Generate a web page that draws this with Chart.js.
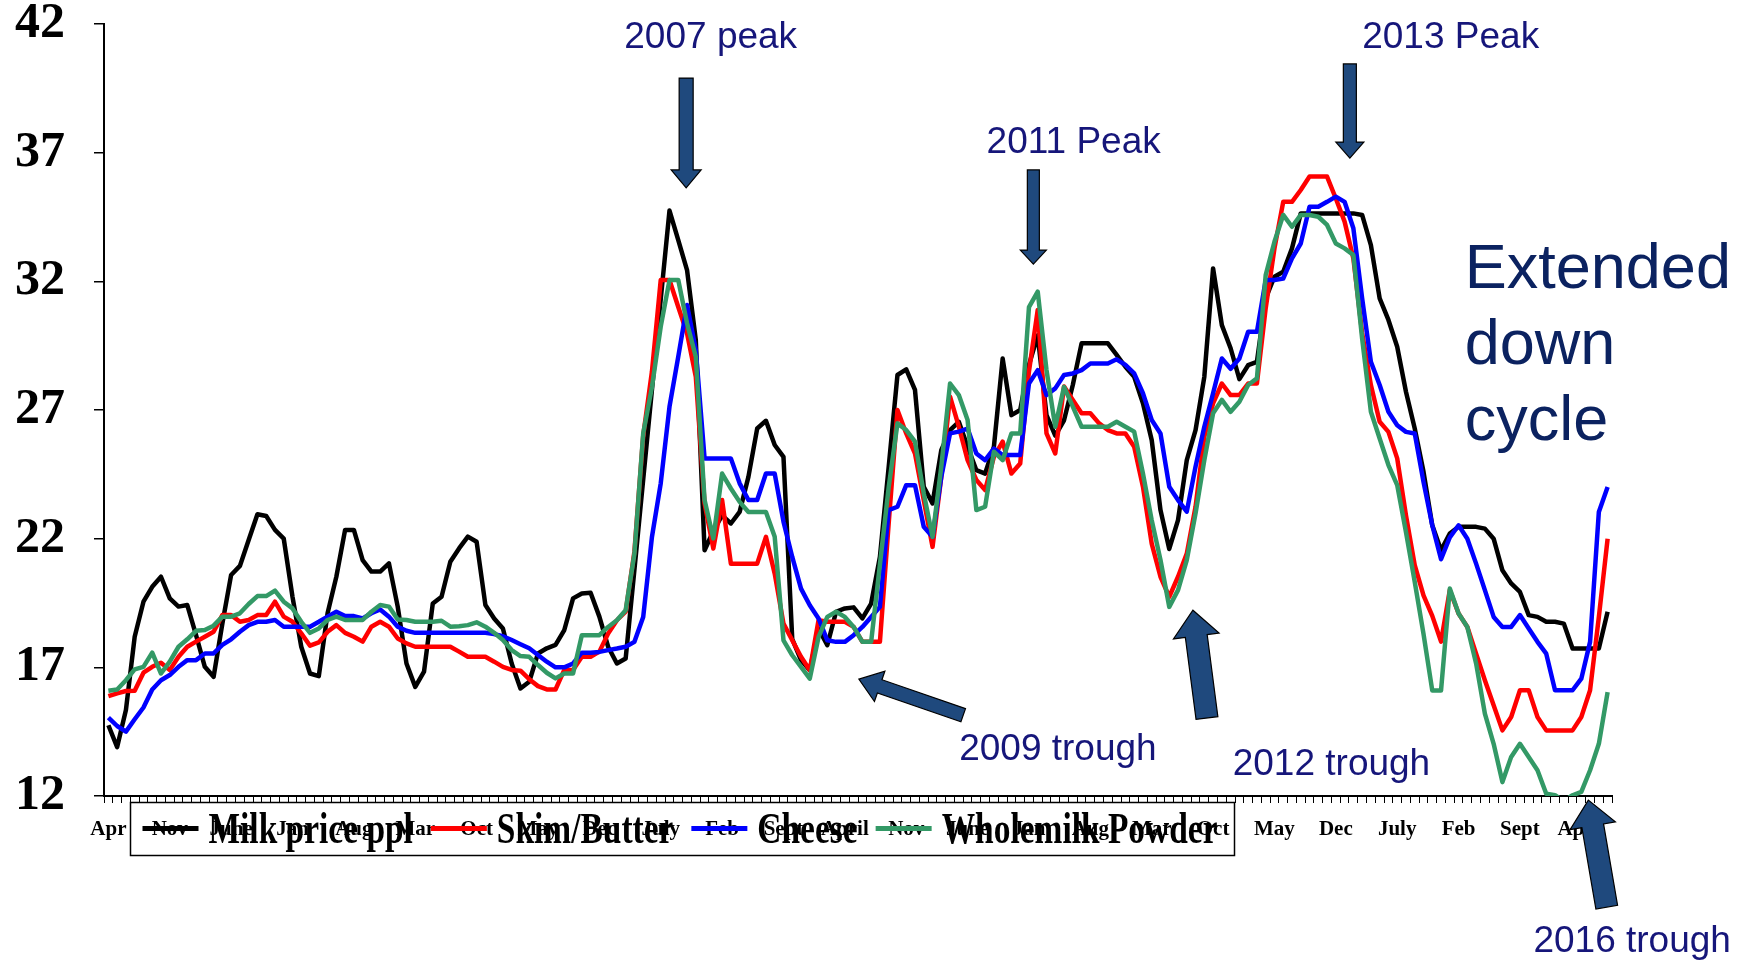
<!DOCTYPE html>
<html>
<head>
<meta charset="utf-8">
<title>Dairy commodity prices</title>
<style>
  html, body { margin: 0; padding: 0; background: #ffffff; }
  canvas { display: block; }
</style>
<script src="https://cdn.jsdelivr.net/npm/chart.js@4.4.1/dist/chart.umd.min.js"></script>
</head>
<body>
<canvas id="chart" width="1752" height="961"></canvas>
<script>
// Monthly series, April 2002 onwards
const milkPrice = [
  14.75, 13.9, 15.34, 18.19, 19.55, 20.13, 20.52, 19.68, 19.36, 19.42,
  18.25, 17.02, 16.63, 18.7, 20.59, 20.94, 21.95, 22.95, 22.88, 22.34,
  22.0, 19.74, 17.8, 16.76, 16.66, 19.1, 20.52, 22.34, 22.34, 21.17,
  20.72, 20.72, 21.04, 19.36, 17.15, 16.24, 16.83, 19.48, 19.74, 21.1,
  21.62, 22.08, 21.88, 19.42, 18.9, 18.51, 17.15, 16.18, 16.44, 17.54,
  17.74, 17.87, 18.45, 19.68, 19.87, 19.9, 18.97, 17.8, 17.15, 17.34,
  20.8, 24.3, 27.8, 31.3, 34.75, 33.6, 32.44, 29.72, 21.55, 22.3,
  22.9, 22.59, 23.04, 24.4, 26.28, 26.58, 25.64, 25.18, 18.1, 17.28,
  16.89, 18.5, 17.86, 19.16, 19.29, 19.33, 18.9, 19.48, 21.29, 24.79,
  28.36, 28.58, 27.78, 24.02, 23.37, 25.44, 26.22, 26.54, 25.57, 24.66,
  24.53, 25.57, 29.0, 26.8, 27.0, 28.75, 29.9, 26.8, 26.0, 26.6,
  27.97, 29.59, 29.59, 29.59, 29.59, 29.14, 28.68, 28.29, 27.26, 25.83,
  23.11, 21.6, 22.72, 25.05, 26.22, 28.29, 32.5, 30.3, 29.4, 28.2,
  28.74, 28.87, 31.34, 32.18, 32.37, 33.28, 34.64, 34.64, 34.64, 34.64,
  34.64, 34.64, 34.64, 34.58, 33.41, 31.34, 30.5, 29.46, 27.71, 26.28,
  24.6, 22.52, 21.55, 22.2, 22.46, 22.46, 22.46, 22.39, 22.0, 20.77,
  20.26, 19.93, 19.03, 18.96, 18.77, 18.77, 18.7, 17.73, 17.73, 17.73,
  17.73, 19.16
];

const skimButter = [
  15.88, 15.99, 16.08, 16.09, 16.79, 17.02, 17.18, 16.9, 17.41, 17.8,
  18.0, 18.19, 18.38, 19.03, 19.03, 18.77, 18.84, 19.03, 19.03, 19.55,
  18.97, 18.77, 18.32, 17.84, 17.97, 18.38, 18.64, 18.34, 18.19, 18.0,
  18.58, 18.77, 18.58, 18.12, 17.93, 17.8, 17.8, 17.8, 17.8, 17.8,
  17.61, 17.41, 17.41, 17.41, 17.22, 17.02, 16.9, 16.87, 16.54, 16.27,
  16.14, 16.14, 16.9, 16.9, 17.41, 17.41, 17.61, 18.31, 18.83, 19.16,
  21.5, 26.0, 28.5, 32.05, 32.05, 31.0, 29.98, 28.29, 23.37, 21.62,
  23.5, 21.03, 21.03, 21.03, 21.03, 22.07, 20.64, 18.7, 18.05, 17.41,
  16.89, 18.83, 18.77, 18.77, 18.77, 18.57, 17.99, 17.99, 17.99, 22.6,
  27.0, 26.09, 25.31, 23.5, 21.68, 24.4, 27.52, 26.35, 25.05, 24.28,
  23.89, 25.18, 25.77, 24.53, 24.92, 28.5, 30.89, 26.09, 25.31, 27.91,
  27.39, 26.87, 26.87, 26.48, 26.22, 26.09, 26.09, 25.57, 24.02, 21.81,
  20.52, 19.74, 20.52, 21.42, 23.24, 25.96, 27.26, 28.03, 27.58, 27.58,
  28.03, 28.03, 30.95, 33.28, 35.09, 35.09, 35.55, 36.07, 36.07, 36.07,
  35.22, 34.32, 32.89, 30.0, 27.97, 26.54, 26.15, 25.12, 22.91, 20.97,
  19.8, 19.0, 18.0, 20.0, 19.09, 18.57, 17.53, 16.5, 15.53, 14.55,
  15.07, 16.11, 16.11, 15.07, 14.55, 14.55, 14.55, 14.55, 15.07, 16.11,
  18.96, 22.0
];

const cheese = [
  15.05, 14.72, 14.5, 14.98, 15.44, 16.14, 16.5, 16.7, 17.02, 17.28,
  17.28, 17.54, 17.54, 17.87, 18.09, 18.38, 18.64, 18.77, 18.77, 18.84,
  18.58, 18.58, 18.58, 18.58, 18.77, 18.97, 19.16, 18.99, 18.99, 18.9,
  19.1, 19.25, 18.97, 18.58, 18.42, 18.34, 18.34, 18.34, 18.34, 18.34,
  18.34, 18.34, 18.34, 18.34, 18.29, 18.21, 18.06, 17.9, 17.74, 17.48,
  17.22, 17.0, 17.0, 17.15, 17.57, 17.57, 17.6, 17.67, 17.73, 17.8,
  17.99, 18.96, 22.07, 24.15, 27.13, 29.07, 31.08, 29.33, 25.12, 25.12,
  25.12, 25.12, 24.15, 23.5, 23.5, 24.53, 24.53, 22.66, 21.29, 20.06,
  19.41, 18.9, 18.05, 17.99, 17.99, 18.25, 18.57, 18.96, 19.35, 23.11,
  23.24, 24.08, 24.08, 22.46, 22.07, 24.4, 26.09, 26.16, 26.28, 25.31,
  25.05, 25.5, 25.25, 25.25, 25.25, 28.03, 28.55, 27.58, 27.84, 28.36,
  28.42, 28.55, 28.81, 28.81, 28.81, 28.97, 28.75, 28.42, 27.65, 26.61,
  26.09, 24.02, 23.5, 23.05, 24.8, 26.35, 27.65, 29.0, 28.6, 29.0,
  30.04, 30.04, 32.05, 32.05, 32.11, 32.89, 33.47, 34.9, 34.9, 35.09,
  35.29, 35.09, 34.06, 31.34, 28.87, 27.97, 26.93, 26.41, 26.15, 26.09,
  24.21, 22.52, 21.2, 22.05, 22.52, 22.0, 21.03, 20.0, 18.96, 18.57,
  18.57, 19.03, 18.51, 17.99, 17.53, 16.11, 16.11, 16.11, 16.56, 17.99,
  23.04, 24.01
];

const wholemilkPowder = [
  16.09, 16.14, 16.5, 16.92, 17.02, 17.57, 16.76, 17.22, 17.8, 18.09,
  18.42, 18.45, 18.62, 18.97, 18.97, 19.1, 19.46, 19.77, 19.77, 19.98,
  19.55, 19.29, 18.77, 18.34, 18.51, 18.84, 18.97, 18.84, 18.84, 18.84,
  19.16, 19.42, 19.36, 18.86, 18.84, 18.77, 18.77, 18.77, 18.81, 18.58,
  18.6, 18.64, 18.75, 18.58, 18.34, 18.06, 17.67, 17.44, 17.41, 17.09,
  16.79, 16.57, 16.76, 16.76, 18.25, 18.25, 18.25, 18.57, 18.83, 19.22,
  21.42, 26.09, 27.9, 30.24, 32.05, 32.05, 30.37, 29.07, 23.5, 22.01,
  24.53, 23.95, 23.43, 23.04, 23.04, 23.04, 22.07, 18.05, 17.47, 17.02,
  16.56, 18.18, 18.96, 19.16, 18.96, 18.57, 17.99, 17.99, 21.0, 24.0,
  26.48, 26.22, 25.77, 23.76, 22.07, 24.8, 28.03, 27.58, 26.61, 23.11,
  23.24, 25.38, 25.05, 26.09, 26.09, 31.0, 31.6, 28.55, 26.35, 27.9,
  27.13, 26.35, 26.35, 26.35, 26.35, 26.54, 26.35, 26.16, 24.53, 22.72,
  21.17, 19.35, 20.0, 21.17, 22.98, 25.05, 26.87, 27.39, 26.93, 27.32,
  27.97, 28.23, 32.24, 33.54, 34.58, 34.12, 34.58, 34.58, 34.51, 34.19,
  33.47, 33.28, 33.02, 29.78, 26.93, 25.89, 24.86, 24.08, 22.26, 20.32,
  18.3, 16.1, 16.1, 20.06, 19.09, 18.57, 17.15, 15.2, 14.03, 12.54,
  13.52, 14.03, 13.52, 13.0, 12.09, 12.03, 11.8, 12.03, 12.16, 13.0,
  14.03, 16.04
];

// Axis labels: one month name every seventh month
const tickLabels = ['Apr', 'Nov', 'June', 'Jan', 'Aug', 'Mar', 'Oct', 'May', 'Dec', 'July',
  'Feb', 'Sept', 'April', 'Nov', 'June', 'Jan', 'Aug', 'Mar', 'Oct', 'May', 'Dec', 'July',
  'Feb', 'Sept', 'April'];
const labelStep = 7;
const monthNames = ['Jan', 'Feb', 'Mar', 'Apr', 'May', 'Jun', 'Jul', 'Aug', 'Sep', 'Oct', 'Nov', 'Dec'];
const firstMonth = 3;   // April
const firstYear = 2002;
const yTicks = { min: 12, max: 42, step: 5 };

const seriesNames = ['Milk price ppl', 'Skim/Butter', 'Cheese', 'Wholemilk Powder'];
const seriesColors = ['#000000', '#ff0000', '#0000ff', '#339966'];

// Category labels for each month of the series
const categories = milkPrice.map((_, k) => {
  const m = firstMonth + k;
  return monthNames[m % 12] + ' ' + (firstYear + Math.floor(m / 12));
});

// Call-outs placed in axis units (category index, price)
const callouts = [
  { text: '2007 peak',   at: [68.7, 41.46] },
  { text: '2011 Peak',   at: [110.1, 37.38] },
  { text: '2013 Peak',   at: [153.1, 41.46] },
  { text: '2009 trough', at: [108.3, 13.8] },
  { text: '2012 trough', at: [139.5, 13.2] },
  { text: '2016 trough', at: [173.8, 6.35] }
];
const cycleNote = { lines: ['Extended', 'down', 'cycle'], x: 154.7, y: [32.4, 29.45, 26.5] };
const arrows = [
  { from: [65.9, 39.9],   to: [65.9, 35.63],  shaft: 14, head: 30, headLen: 18 },
  { from: [105.5, 36.33], to: [105.5, 32.67], shaft: 12, head: 26, headLen: 14 },
  { from: [141.6, 40.45], to: [141.6, 36.79], shaft: 13, head: 28, headLen: 16 },
  { from: [97.5, 15.14],  to: [85.6, 16.54],  shaft: 14, head: 32, headLen: 22 },
  { from: [125.3, 15.03], to: [123.7, 19.22], shaft: 22, head: 46, headLen: 26 },
  { from: [170.9, 7.68],  to: [168.8, 11.84], shaft: 22, head: 46, headLen: 26 }
];

const NOTE_COLOR = '#16167a';
const CYCLE_COLOR = '#0b2260';
const ARROW_FILL = '#1f497d';
const LEGEND_FONT = 'bold 44px "Liberation Serif", "Times New Roman", serif';
const LEGEND_SQUEEZE = 0.76;

function drawBlockArrow(ctx, x1, y1, x2, y2, shaft, head, headLen) {
  const dx = x2 - x1, dy = y2 - y1;
  const len = Math.hypot(dx, dy);
  const ux = dx / len, uy = dy / len;
  const nx = -uy, ny = ux;
  const bx = x2 - ux * headLen, by = y2 - uy * headLen;
  const s = shaft / 2, h = head / 2;
  ctx.beginPath();
  ctx.moveTo(x1 + nx * s, y1 + ny * s);
  ctx.lineTo(bx + nx * s, by + ny * s);
  ctx.lineTo(bx + nx * h, by + ny * h);
  ctx.lineTo(x2, y2);
  ctx.lineTo(bx - nx * h, by - ny * h);
  ctx.lineTo(bx - nx * s, by - ny * s);
  ctx.lineTo(x1 - nx * s, y1 - ny * s);
  ctx.closePath();
  ctx.fill();
  ctx.stroke();
}

const overlayPlugin = {
  id: 'overlay',
  afterDraw(chart) {
    const { ctx, chartArea } = chart;
    const xs = chart.scales.x, ys = chart.scales.y;
    const px = v => xs.getPixelForValue(v);
    const py = v => ys.getPixelForValue(v);
    ctx.save();

    // Legend box overlapping the month labels (no fill)
    const boxLeft = chartArea.left + 26.5;
    const boxTop = chartArea.bottom + 6.5;
    const boxW = 1104, boxH = 53;
    ctx.strokeStyle = '#000';
    ctx.lineWidth = 1.5;
    ctx.strokeRect(boxLeft, boxTop, boxW, boxH);
    ctx.font = LEGEND_FONT;
    ctx.textBaseline = 'alphabetic';
    ctx.textAlign = 'left';
    let lx = boxLeft + 12;
    const lineY = boxTop + 26;
    chart.data.datasets.forEach(ds => {
      ctx.strokeStyle = ds.borderColor;
      ctx.lineWidth = 5;
      ctx.beginPath();
      ctx.moveTo(lx, lineY);
      ctx.lineTo(lx + 56, lineY);
      ctx.stroke();
      const tx = lx + 66;
      const w = ctx.measureText(ds.label).width * LEGEND_SQUEEZE;
      ctx.save();
      ctx.translate(tx, boxTop + 40);
      ctx.scale(LEGEND_SQUEEZE, 1);
      ctx.fillStyle = '#000';
      ctx.fillText(ds.label, 0, 0);
      ctx.restore();
      lx = tx + w + 18;
    });

    // Peak / trough call-outs
    ctx.fillStyle = NOTE_COLOR;
    ctx.font = '37px "Liberation Sans", Arial, sans-serif';
    ctx.textAlign = 'center';
    ctx.textBaseline = 'middle';
    callouts.forEach(c => ctx.fillText(c.text, px(c.at[0]), py(c.at[1])));

    ctx.fillStyle = CYCLE_COLOR;
    ctx.font = '63px "Liberation Sans", Arial, sans-serif';
    ctx.textAlign = 'left';
    cycleNote.lines.forEach((t, i) => ctx.fillText(t, px(cycleNote.x), py(cycleNote.y[i])));

    // Block arrows
    ctx.fillStyle = ARROW_FILL;
    ctx.strokeStyle = '#000';
    ctx.lineWidth = 1.2;
    ctx.lineJoin = 'miter';
    arrows.forEach(a => drawBlockArrow(ctx, px(a.from[0]), py(a.from[1]), px(a.to[0]), py(a.to[1]),
      a.shaft, a.head, a.headLen));

    ctx.restore();
  }
};

const seriesData = [milkPrice, skimButter, cheese, wholemilkPowder];
const datasets = seriesData.map((d, i) => ({
  label: seriesNames[i],
  data: d,
  borderColor: seriesColors[i],
  backgroundColor: seriesColors[i],
  borderWidth: 4.5,
  pointRadius: 0,
  pointHoverRadius: 0,
  tension: 0,
  fill: false,
  borderJoinStyle: 'round',
  order: seriesData.length - i
}));

new Chart(document.getElementById('chart'), {
  type: 'line',
  data: { labels: categories, datasets },
  options: {
    responsive: false,
    animation: false,
    devicePixelRatio: 1,
    layout: { padding: { top: 24, right: 140, bottom: 0, left: 0 } },
    plugins: { legend: { display: false }, tooltip: { enabled: false } },
    scales: {
      x: {
        type: 'category',
        offset: true,
        afterFit(scale) { scale.height = 165; },
        border: { display: true, color: '#000', width: 2 },
        grid: { display: true, drawOnChartArea: false, drawTicks: true, tickLength: 7,
                offset: true, color: '#000', lineWidth: 1 },
        ticks: {
          autoSkip: false,
          maxRotation: 0,
          minRotation: 0,
          padding: 14,
          color: '#000',
          font: { family: '"Liberation Serif", "Times New Roman", serif', size: 21, weight: 'bold' },
          callback: (v, i) => (i % labelStep === 0 ? tickLabels[i / labelStep] : '')
        }
      },
      y: {
        type: 'linear',
        min: yTicks.min,
        max: yTicks.max,
        afterFit(scale) {
          scale.width = 104;
          // the outer tick labels may sit over the layout padding
          scale.paddingTop = 0;
          scale.paddingBottom = 0;
        },
        border: { display: true, color: '#000', width: 2 },
        grid: { display: true, drawOnChartArea: false, drawTicks: true, tickLength: 10,
                color: '#000', lineWidth: 1.5 },
        ticks: {
          stepSize: yTicks.step,
          padding: 29,
          color: '#000',
          font: { family: '"Liberation Serif", "Times New Roman", serif', size: 50, weight: 'bold', lineHeight: 0.95 }
        }
      }
    }
  },
  plugins: [overlayPlugin]
});
</script>
</body>
</html>
